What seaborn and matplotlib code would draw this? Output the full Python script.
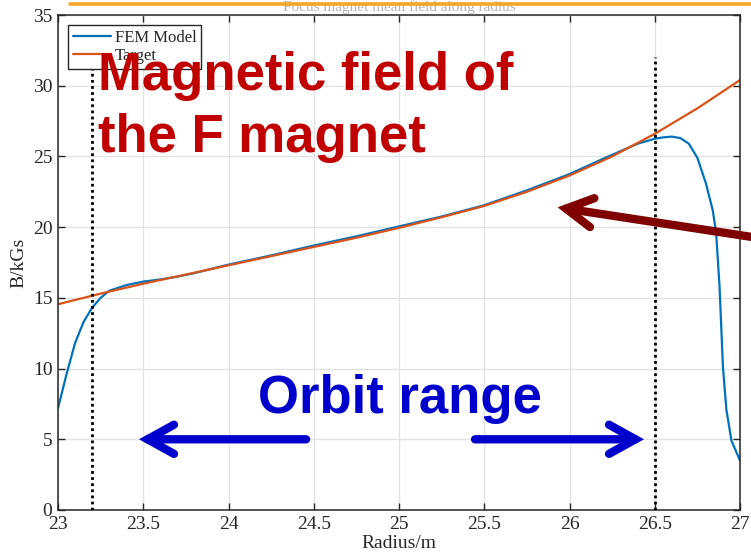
import numpy as np
import pandas as pd
import seaborn as sns
import matplotlib
matplotlib.use("Agg")
import matplotlib.pyplot as plt
from matplotlib.lines import Line2D

# ---------------- data ----------------
fem_r = [23.0, 23.05, 23.1, 23.15, 23.2, 23.25, 23.3, 23.4, 23.5, 23.6, 23.7, 23.8,
         24.0, 24.25, 24.5, 24.75, 25.0, 25.25, 25.5, 25.75, 26.0, 26.2, 26.4, 26.5,
         26.55, 26.6, 26.65, 26.7, 26.75, 26.8, 26.84, 26.86, 26.88, 26.9, 26.92,
         26.95, 27.0]
fem_b = [7.2, 9.6, 11.8, 13.3, 14.3, 15.0, 15.5, 15.9, 16.15, 16.3, 16.5, 16.75,
         17.35, 18.0, 18.7, 19.35, 20.05, 20.75, 21.55, 22.6, 23.75, 24.85, 25.9, 26.25,
         26.35, 26.4, 26.3, 25.9, 24.9, 23.1, 21.2, 19.6, 15.8, 10.1, 7.1,
         4.9, 3.5]
target_r = [23.0, 23.25, 23.5, 23.75, 24.0, 24.25, 24.5, 24.75, 25.0, 25.25, 25.5,
            25.75, 26.0, 26.25, 26.5, 26.75, 27.0]
target_b = [14.55, 15.3, 16.0, 16.65, 17.3, 17.95, 18.6, 19.25, 19.95, 20.7, 21.5,
            22.5, 23.65, 25.0, 26.6, 28.4, 30.4]
orbit_edges = [23.2, 26.5]
x_ticks = [23, 23.5, 24, 24.5, 25, 25.5, 26, 26.5, 27]
y_ticks = [0, 5, 10, 15, 20, 25, 30, 35]
x_ticklabels = ["23", "23.5", "24", "24.5", "25", "25.5", "26", "26.5", "27"]

fem = pd.DataFrame({"r": fem_r, "B": fem_b})
tgt = pd.DataFrame({"r": target_r, "B": target_b})

# ---------------- style ----------------
sns.set_theme(style="whitegrid")
plt.rcParams["font.family"] = ["Liberation Serif", "DejaVu Serif"]

fig = plt.figure(figsize=(7.51, 5.60), dpi=100)
fig.patch.set_facecolor("white")
ax = fig.add_axes([58 / 751, 1 - 510 / 560, 682 / 751, 495 / 560])
ax.set_facecolor("white")

blue = "#0072BD"
orange = "#D95319"
sns.lineplot(data=fem, x="r", y="B", ax=ax, color=blue, lw=1.6, label="FEM Model",
             estimator=None, sort=False)
sns.lineplot(data=tgt, x="r", y="B", ax=ax, color=orange, lw=1.6, label="Target",
             estimator=None, sort=False)

for xe in orbit_edges:
    ax.plot([xe, xe], [0, 32], color="black", lw=2.0, ls=(0, (1, 1.2)), zorder=3)

ax.set_xlim(23, 27)
ax.set_ylim(0, 35)
ax.set_xticks(x_ticks)
ax.set_xticklabels(x_ticklabels)
ax.set_yticks(y_ticks)
ax.grid(True, color="#e3e3e3", lw=1.0)
ax.tick_params(axis="both", direction="in", length=5, width=1, color="#262626",
               labelsize=14, labelcolor="#262626", top=True, right=True,
               bottom=True, left=True, pad=4)
for s in ax.spines.values():
    s.set_visible(True)
    s.set_color("#262626")
    s.set_linewidth(1.1)
ax.set_xlabel("Radius/m", fontsize=14, color="#262626", labelpad=2)
ax.set_ylabel("B/kGs", fontsize=14, color="#262626", labelpad=4)

leg = ax.legend(loc="upper left", bbox_to_anchor=(10 / 682, 1 - 10 / 495),
                borderaxespad=0, frameon=True, fancybox=False, fontsize=12,
                handlelength=2.3, handletextpad=0.2, borderpad=0.3,
                labelspacing=0.1, edgecolor="#262626", framealpha=1)
leg.get_frame().set_linewidth(1.0)
leg.set_zorder(5)

# ---------------- title (cropped at top) and orange strip ----------------
fig.text(399 / 751, 1 - 11 / 560, "Focus magnet mean field along radius",
         ha="center", va="baseline", fontsize=11, color="#b4b4b4", zorder=1)
fig.add_artist(Line2D([70 / 751, 1.0], [1 - 4 / 560, 1 - 4 / 560],
                      color="#F5A623", lw=2.6, transform=fig.transFigure,
                      zorder=5))

# ---------------- annotations ----------------
red = "#C00000"
dblue = "#0000CC"
dred = "#800000"
ax.text(23.235, 29.68, "Magnetic field of", family="Liberation Sans",
        weight="bold", fontsize=38, color=red, ha="left", va="baseline", zorder=10)
ax.text(23.235, 25.3, "the F magnet", family="Liberation Sans",
        weight="bold", fontsize=38, color=red, ha="left", va="baseline", zorder=10)
ax.text(24.173, 6.86, "Orbit range", family="Liberation Sans",
        weight="bold", fontsize=38, color=dblue, ha="left", va="baseline", zorder=10)

arrow_kw = dict(arrowstyle="->,head_length=1.9,head_width=1.05", lw=6,
                shrinkA=0, shrinkB=0, mutation_scale=10, capstyle="round",
                joinstyle="miter")
ax.annotate("", xy=(23.475, 5.0), xytext=(24.455, 5.0),
            arrowprops=dict(color=dblue, **arrow_kw), zorder=10)
ax.annotate("", xy=(26.437, 5.0), xytext=(25.446, 5.0),
            arrowprops=dict(color=dblue, **arrow_kw), zorder=10)
ax.annotate("", xy=(25.93, 21.4), xytext=(27.1, 19.25),
            arrowprops=dict(color=dred, **arrow_kw), zorder=10,
            annotation_clip=False)

fig.savefig("out.png", dpi=100, facecolor="white")
